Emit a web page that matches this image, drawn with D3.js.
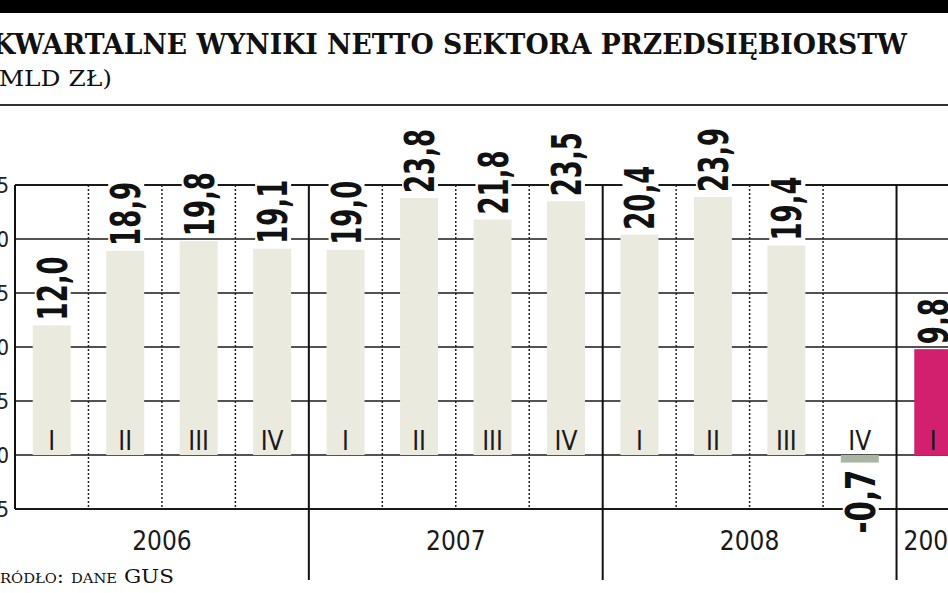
<!DOCTYPE html>
<html>
<head>
<meta charset="utf-8">
<script src="https://cdn.jsdelivr.net/npm/d3@7"></script>
<style>
  body { margin: 0; background: #fff; }
  svg { display: block; }
</style>
</head>
<body>
<svg id="chart" width="948" height="593"></svg>
<script>
// Chart data

var years = ['2006', '2007', '2008', '2009'];
var quarterNames = ['I', 'II', 'III', 'IV', 'I', 'II', 'III', 'IV', 'I', 'II', 'III', 'IV', 'I'];
var quarterYears = ['2006', '2006', '2006', '2006', '2007', '2007', '2007', '2007', '2008', '2008', '2008', '2008', '2009'];
var values = [12.0, 18.9, 19.8, 19.1, 19.0, 23.8, 21.8, 23.5, 20.4, 23.9, 19.4, -0.7, 9.8];
var yTicks = [-5, 0, 5, 10, 15, 20, 25];

var titleText = 'KWARTALNE WYNIKI NETTO SEKTORA PRZEDSIĘBIORSTW';
var unitText = '(MLD ZŁ)';
var sourceText = 'Źródło: dane GUS';

var rows = values.map(function (v, i) {
    return {key: quarterYears[i] + '-' + quarterNames[i], year: quarterYears[i], q: quarterNames[i], value: v};
});

var svg = d3.select('#chart');

// plot frame (the right end runs past the window, as in the cropped original)
var plotLeft = 15, plotRight = 970, plotTop = 185, plotBottom = 509;
var pad = 0.483;
var narrow = '"Liberation Sans Narrow", "DejaVu Sans Condensed", sans-serif';

var x = d3.scaleBand()
    .domain(rows.map(function (d) { return d.key; }))
    .range([plotLeft, plotRight])
    .paddingInner(pad)
    .paddingOuter(pad / 2);

var y = d3.scaleLinear().domain([-5, 25]).range([plotBottom, plotTop]);

var step = x.step();
function slotStart(key) { return x(key) - step * pad / 2; }

function barColor(d) {
    if (d.year === '2009') return '#d2206f';
    if (d.value < 0) return '#a7b6a3';
    return '#eaeadf';
}

function fmt(v) {
    return d3.format('.1f')(v).replace('.', ',').replace('\u2212', '-');
}

// squeeze the label along its length: digits are wide, comma is narrow
function labelLength(s) {
    var n = 0;
    for (var i = 0; i < s.length; i++) n += s[i] === ',' ? 10 : 18;
    return n;
}

// header

svg.append('rect').attr('x', 0).attr('y', 0).attr('width', 948).attr('height', 13).attr('fill', '#000');

svg.append('text')
    .attr('x', -8).attr('y', 54)
    .attr('textLength', 915).attr('lengthAdjust', 'spacingAndGlyphs')
    .style('font-family', '"DejaVu Serif", serif')
    .style('font-weight', 'bold')
    .style('font-size', '28px')
    .attr('fill', '#111')
    .text(titleText);

svg.append('text')
    .attr('x', -11).attr('y', 86)
    .attr('textLength', 123).attr('lengthAdjust', 'spacingAndGlyphs')
    .style('font-family', '"DejaVu Serif", serif')
    .style('font-size', '23px')
    .attr('fill', '#111')
    .text(unitText);

svg.append('line')
    .attr('x1', 0).attr('x2', 948).attr('y1', 105).attr('y2', 105)
    .attr('stroke', '#333').attr('stroke-width', 2);

// horizontal grid lines (bars sit on top of them)

svg.append('g').selectAll('line')
    .data(yTicks)
    .enter()
    .append('line')
    .attr('x1', plotLeft).attr('x2', 948)
    .attr('y1', function (d) { return y(d); })
    .attr('y2', function (d) { return y(d); })
    .attr('stroke', '#1a1a1a')
    .attr('stroke-width', function (d) { return (d === 25 || d === -5) ? 2 : 1.6; });

// axis tick labels, mostly cut off at the left edge

svg.append('g').selectAll('text')
    .data(yTicks)
    .enter()
    .append('text')
    .attr('x', 9)
    .attr('y', function (d) { return y(d); })
    .attr('text-anchor', 'end')
    .attr('dominant-baseline', 'central')
    .style('font-family', narrow)
    .style('font-size', '22px')
    .attr('fill', '#222')
    .text(function (d) { return d; });

// dotted lines between quarters

var quarterBounds = rows.filter(function (d, i) { return i > 0 && d.year === rows[i - 1].year; });
svg.append('g').selectAll('line')
    .data(quarterBounds)
    .enter()
    .append('line')
    .attr('x1', function (d) { return slotStart(d.key); })
    .attr('x2', function (d) { return slotStart(d.key); })
    .attr('y1', plotTop).attr('y2', plotBottom)
    .attr('stroke', '#222')
    .attr('stroke-width', 1.5)
    .attr('stroke-dasharray', '2,2');

// bars

svg.append('g').selectAll('rect')
    .data(rows)
    .enter()
    .append('rect')
    .attr('x', function (d) { return x(d.key); })
    .attr('width', x.bandwidth())
    .attr('y', function (d) { return y(Math.max(0, d.value)); })
    .attr('height', function (d) { return Math.abs(y(d.value) - y(0)); })
    .attr('fill', barColor);

// solid lines between years

var yearBounds = rows.filter(function (d, i) { return i === 0 || d.year !== rows[i - 1].year; });
svg.append('g').selectAll('line')
    .data(yearBounds)
    .enter()
    .append('line')
    .attr('x1', function (d) { return slotStart(d.key); })
    .attr('x2', function (d) { return slotStart(d.key); })
    .attr('y1', plotTop)
    .attr('y2', function (d, i) { return i === 0 ? plotBottom : 580; })
    .attr('stroke', '#111')
    .attr('stroke-width', 2);

// quarter names inside the bars

svg.append('g').selectAll('text')
    .data(rows)
    .enter()
    .append('text')
    .attr('x', function (d) { return x(d.key) + x.bandwidth() / 2; })
    .attr('y', 441)
    .attr('text-anchor', 'middle')
    .attr('dominant-baseline', 'central')
    .style('font-family', narrow)
    .style('font-size', '26px')
    .attr('fill', '#1a1a1a')
    .text(function (d) { return d.q; });

// year labels under the frame

svg.append('g').selectAll('text')
    .data(years)
    .enter()
    .append('text')
    .attr('x', function (yr) {
        var ks = rows.filter(function (d) { return d.year === yr; });
        var a = slotStart(ks[0].key), b = slotStart(ks[ks.length - 1].key) + step;
        return (a + b) / 2;
    })
    .attr('y', 541)
    .attr('text-anchor', 'middle')
    .attr('dominant-baseline', 'central')
    .style('font-family', narrow)
    .style('font-size', '26px')
    .attr('fill', '#1a1a1a')
    .text(function (d) { return d; });

// value labels, rotated, on a white box

var labels = svg.append('g').selectAll('g')
    .data(rows)
    .enter()
    .append('g')
    .attr('transform', function (d) {
        var cx = x(d.key) + x.bandwidth() / 2 + 1;
        var cy = d.value >= 0 ? y(d.value) - 5 : y(d.value) + 7;
        return 'translate(' + cx + ',' + cy + ') rotate(-90)';
    });

labels.append('text')
    .attr('x', 0).attr('y', 0)
    .attr('text-anchor', function (d) { return d.value >= 0 ? 'start' : 'end'; })
    .attr('dominant-baseline', 'central')
    .attr('textLength', function (d) { return labelLength(fmt(d.value)); })
    .attr('lengthAdjust', 'spacingAndGlyphs')
    .style('font-family', '"DejaVu Sans", sans-serif')
    .style('font-weight', 'bold')
    .style('font-size', '40px')
    .attr('fill', '#111')
    .text(function (d) { return fmt(d.value); });

labels.each(function () {
    var g = d3.select(this);
    var bb = g.select('text').node().getBBox();
    g.insert('rect', 'text')
        .attr('x', bb.x - 1).attr('y', bb.y + 5)
        .attr('width', bb.width + 2).attr('height', bb.height - 10)
        .attr('fill', '#fff');
});

// source line

svg.append('text')
    .attr('x', -15).attr('y', 583)
    .attr('textLength', 189).attr('lengthAdjust', 'spacingAndGlyphs')
    .style('font-family', '"DejaVu Serif", serif')
    .style('font-size', '19px')
    .style('font-variant', 'small-caps')
    .attr('fill', '#111')
    .text(sourceText);
</script>
</body>
</html>
